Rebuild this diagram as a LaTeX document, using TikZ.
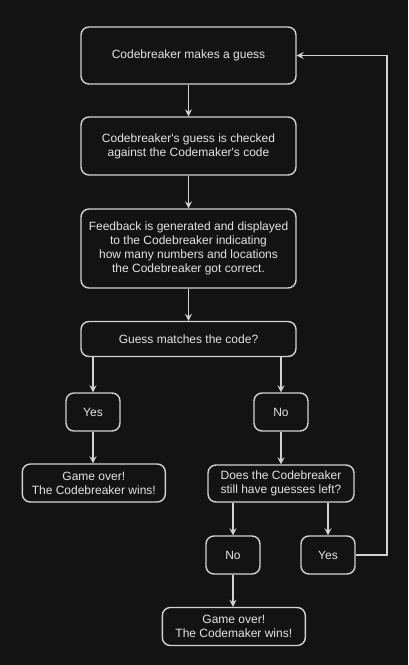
\documentclass[tikz,border=0pt]{standalone}
\usepackage{fontspec}
\setmainfont{Liberation Sans}[Ligatures=TeXOff]
\usetikzlibrary{arrows.meta}
\definecolor{bg}{HTML}{131313}
\definecolor{ln}{HTML}{D2D2D2}
\definecolor{tx}{HTML}{E4E4E4}
\begin{document}
\begin{tikzpicture}[x=1pt,y=-1pt,
  box/.style={draw=ln, line width=1.4pt, rounded corners=8pt, fill=bg, text=tx,
    font=\fontsize{12}{14}\selectfont, align=center, inner sep=0pt},
  arr/.style={draw=ln, line width=1.4pt, -{Stealth[length=7pt,width=7pt,inset=2.5pt]}}]
\fill[bg] (0,0) rectangle (408,665);
\useasboundingbox (0,0) rectangle (408,665);
\node[box, minimum width=215pt, minimum height=57pt] (b1) at (188.5,55.5) {Codebreaker makes a guess};
\node[box, minimum width=215pt, minimum height=58pt] (b2) at (188.5,146) {Codebreaker's guess is checked\\against the Codemaker's code};
\node[box, minimum width=215pt, minimum height=79pt] (b3) at (188.5,248.5) {Feedback is generated and displayed\\to the Codebreaker indicating\\how many numbers and locations\\the Codebreaker got correct.};
\node[box, minimum width=215pt, minimum height=35pt] (b4) at (188.5,339) {Guess matches the code?};
\node[box, minimum width=54pt, minimum height=38pt] (yes1) at (93,412) {Yes};
\node[box, minimum width=54pt, minimum height=38pt] (no1) at (281,412) {No};
\node[box, minimum width=143pt, minimum height=38pt] (go1) at (93.8,483) {Game over!\\The Codebreaker wins!};
\node[box, minimum width=146pt, minimum height=37pt] (does) at (281,483.5) {Does the Codebreaker\\still have guesses left?};
\node[box, minimum width=54pt, minimum height=38pt] (no2) at (233,555) {No};
\node[box, minimum width=54pt, minimum height=38pt] (yes2) at (328,555) {Yes};
\node[box, minimum width=143pt, minimum height=38pt] (go2) at (233.8,626.5) {Game over!\\The Codemaker wins!};
\coordinate (lp) at (387,555);
\draw[arr] (b1) -- (b2);
\draw[arr] (b2) -- (b3);
\draw[arr] (b3) -- (b4);
\draw[arr] (b4.south -| yes1.north) -- (yes1.north);
\draw[arr] (b4.south -| no1.north) -- (no1.north);
\draw[arr] (yes1) -- (go1.north -| yes1);
\draw[arr] (no1) -- (does.north -| no1);
\draw[arr] (does.south -| no2.north) -- (no2.north);
\draw[arr] (does.south -| yes2.north) -- (yes2.north);
\draw[arr] (no2) -- (go2.north -| no2);
\draw[arr] (yes2.east) -- (lp) |- (b1.east);
\end{tikzpicture}
\end{document}
